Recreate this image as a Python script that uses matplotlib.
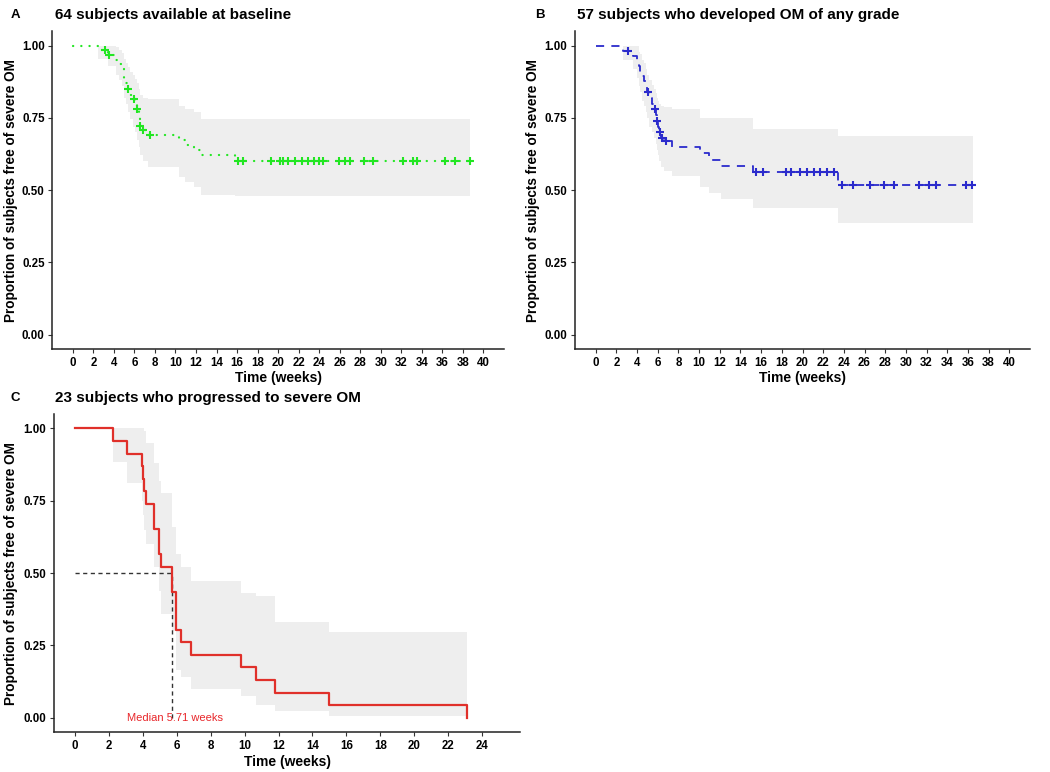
import numpy as np
import matplotlib
matplotlib.use("Agg")
import matplotlib.pyplot as plt

plt.rcParams['font.family'] = ['Liberation Sans', 'DejaVu Sans']

# ---- panel A: 64 subjects available at baseline ----
a_time = [0, 2.5, 3.4, 4.2, 4.5, 4.8, 5.0, 5.2, 5.35, 5.6, 5.9, 6.1, 6.25, 6.4, 6.5, 6.8, 7.3,
          10.3, 10.9, 11.8, 12.5, 15.8, 38.7]
a_surv = [1.0, 0.984, 0.968, 0.952, 0.936, 0.92, 0.89, 0.87, 0.85, 0.83, 0.815, 0.80, 0.78, 0.75,
          0.723, 0.708, 0.69, 0.672, 0.655, 0.638, 0.622, 0.60, 0.60]
a_upper = [1.0, 1.0, 1.0, 0.995, 0.985, 0.975, 0.955, 0.94, 0.925, 0.91, 0.90, 0.885, 0.87, 0.85,
           0.83, 0.82, 0.815, 0.79, 0.78, 0.77, 0.747, 0.747, 0.747]
a_lower = [1.0, 0.955, 0.93, 0.90, 0.88, 0.86, 0.82, 0.80, 0.77, 0.745, 0.72, 0.70, 0.675, 0.65,
           0.62, 0.60, 0.58, 0.545, 0.529, 0.51, 0.483, 0.48, 0.48]
a_censor = [3.14, 3.56, 5.4, 5.96, 6.28, 6.54, 6.86, 7.51, 16.1, 16.6, 19.3, 20.2, 20.5, 21.0,
            21.6, 22.3, 22.9, 23.5, 24.0, 24.4, 25.9, 26.5, 27.0, 28.4, 29.2, 32.2, 33.1, 33.5,
            36.3, 37.2, 38.7]

# ---- panel B: 57 subjects who developed OM of any grade ----
b_time = [0, 2.6, 3.6, 4.0, 4.2, 4.3, 4.5, 4.7, 4.9, 5.0, 5.2, 5.4, 5.6, 5.8, 5.9, 6.0, 6.1,
          6.3, 6.6, 7.4, 10.1, 11.0, 12.1, 15.2, 23.4, 36.5]
b_surv = [1.0, 0.982, 0.965, 0.947, 0.93, 0.91, 0.895, 0.877, 0.86, 0.84, 0.82, 0.80, 0.78, 0.76,
          0.74, 0.72, 0.70, 0.68, 0.67, 0.65, 0.627, 0.605, 0.583, 0.562, 0.517, 0.517]
b_upper = [1.0, 1.0, 1.0, 1.0, 0.98, 0.97, 0.95, 0.94, 0.92, 0.90, 0.88, 0.865, 0.85, 0.835,
           0.82, 0.81, 0.80, 0.79, 0.787, 0.78, 0.75, 0.75, 0.75, 0.712, 0.689, 0.689]
b_lower = [1.0, 0.95, 0.92, 0.89, 0.86, 0.84, 0.81, 0.79, 0.77, 0.75, 0.72, 0.70, 0.68, 0.66,
           0.64, 0.62, 0.60, 0.58, 0.565, 0.55, 0.51, 0.49, 0.47, 0.437, 0.385, 0.385]
b_censor = [3.09, 5.07, 5.71, 5.96, 6.19, 6.44, 6.82, 15.5, 16.2, 18.4, 18.9, 19.8, 20.4, 21.1,
            21.7, 22.4, 23.0, 23.8, 24.9, 26.5, 27.9, 28.8, 31.3, 32.2, 32.9, 35.8, 36.4]

# ---- panel C: 23 subjects who progressed to severe OM ----
c_time = [0, 2.24, 3.08, 3.93, 4.0, 4.07, 4.2, 4.66, 4.95, 5.09, 5.71, 5.93, 6.23, 6.82, 9.8,
          10.7, 11.79, 14.97, 23.12]
c_surv = [1.0, 0.957, 0.913, 0.870, 0.826, 0.783, 0.739, 0.652, 0.565, 0.522, 0.435, 0.304,
          0.261, 0.217, 0.174, 0.130, 0.087, 0.043, 0.0]
c_upper = [1.0, 1.0, 1.0, 1.0, 1.0, 0.99, 0.95, 0.88, 0.82, 0.776, 0.66, 0.567, 0.52, 0.473,
           0.43, 0.42, 0.33, 0.296, 0.296]
c_lower = [1.0, 0.884, 0.81, 0.75, 0.70, 0.65, 0.60, 0.52, 0.44, 0.36, 0.30, 0.165, 0.14, 0.10,
           0.074, 0.046, 0.025, 0.008, 0.008]
c_median = 5.71

titles = ["64 subjects available at baseline",
          "57 subjects who developed OM of any grade",
          "23 subjects who progressed to severe OM"]
panel_tags = ["A", "B", "C"]
ylabel = "Proportion of subjects free of severe OM"
xlabel = "Time (weeks)"
yticks = [0, 0.25, 0.5, 0.75, 1.0]
ytick_labels = ["0.00", "0.25", "0.50", "0.75", "1.00"]

band_col = "#EEEEEE"
W, H = 1050, 772
fig = plt.figure(figsize=(W / 100, H / 100), dpi=100)


def px_axes(left, right, top, bottom):
    return fig.add_axes([left / W, 1 - bottom / H, (right - left) / W, (bottom - top) / H])


def style(ax, xmax, xlim):
    ax.set_xlim(*xlim)
    ax.set_ylim(-0.05, 1.05)
    ax.set_xticks(np.arange(0, xmax + 1, 2))
    ax.set_yticks(yticks)
    ax.set_yticklabels(ytick_labels)
    for s in ["top", "right"]:
        ax.spines[s].set_visible(False)
    for s in ["left", "bottom"]:
        ax.spines[s].set_linewidth(1.1)
        ax.spines[s].set_color("#222222")
    ax.tick_params(length=3, width=0.8, color="#333333", pad=2.5, labelsize=8.3)
    for lab in ax.get_xticklabels() + ax.get_yticklabels():
        lab.set_fontweight("bold")
    ax.set_xlabel(xlabel, fontsize=10, fontweight="bold")
    ax.set_ylabel(ylabel, fontsize=9.8, fontweight="bold")
    ax.xaxis.set_label_coords(0.5, -0.07)
    ax.yaxis.set_label_coords(-0.077, 0.5)


def step_value(times, surv, t):
    i = np.searchsorted(times, t, side="right") - 1
    return np.asarray(surv)[i]


# panel A
axA = px_axes(52.3, 504, 31.3, 349)
axA.fill_between(a_time, a_lower, a_upper, step="post", color=band_col, lw=0)
axA.step(a_time, a_surv, where="post", color="#22E622", lw=1.6,
         linestyle=(0, (0.1, 3.6)), dash_capstyle="round")
axA.plot(a_censor, step_value(a_time, a_surv, a_censor), "+", color="#22E622", ms=5.5, mew=1.5)
style(axA, 40, (-2, 42))

# panel B
axB = px_axes(575, 1030, 31.3, 349)
axB.fill_between(b_time, b_lower, b_upper, step="post", color=band_col, lw=0)
axB.step(b_time, b_surv, where="post", color="#2B2BCC", lw=1.3, linestyle=(0, (4.5, 4)))
axB.plot(b_censor, step_value(b_time, b_surv, b_censor), "+", color="#2B2BCC", ms=5.5, mew=1.5)
style(axB, 40, (-2, 42))

# panel C
axC = px_axes(54, 520, 414, 732.3)
axC.fill_between(c_time, c_lower, c_upper, step="post", color=band_col, lw=0)
axC.plot([0, c_median], [0.5, 0.5], color="#333333", lw=1, linestyle=(0, (3, 2.5)))
axC.plot([c_median, c_median], [0, 0.5], color="#333333", lw=1, linestyle=(0, (3, 2.5)))
axC.step(c_time, c_surv, where="post", color="#E0302A", lw=1.6)
axC.text(c_median + 0.2, 0.0, "Median 5.71 weeks", color="#E8262A", fontsize=8,
         ha="center", va="center")
style(axC, 24, (-1.25, 26.25))

# titles and tags
for tag, title, (tx, ty, lx) in zip(panel_tags, titles,
                                      [(15, 15, 55), (540, 15, 577), (15, 398, 55)]):
    fig.text(tx / W, 1 - ty / H, tag, fontsize=9.5, fontweight="bold", va="center", ha="center")
    fig.text(lx / W, 1 - ty / H, title, fontsize=11, fontweight="bold", va="center", ha="left")

fig.savefig("out.png", dpi=100)
